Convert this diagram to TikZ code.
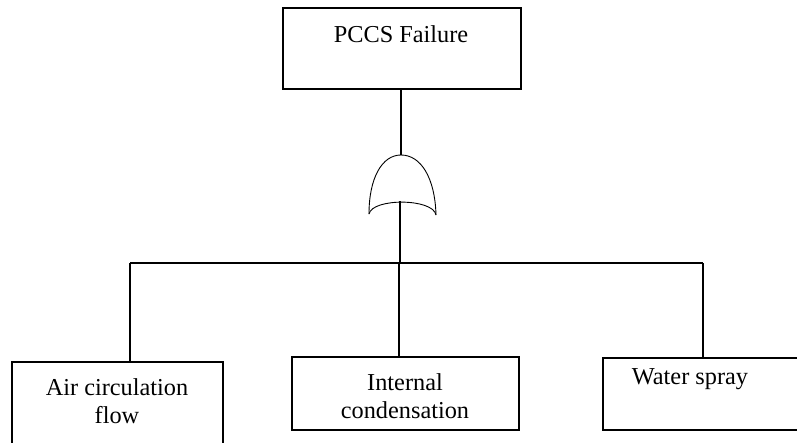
\documentclass[tikz,border=0pt]{standalone}
\usepackage{fontspec}
\setmainfont{Liberation Serif}
\begin{document}
\begin{tikzpicture}[x=1pt,y=-1pt,
  box/.style={draw=black,line width=1.4pt,inner sep=0pt},
  lbl/.style={font=\fontsize{24.3}{28}\selectfont,align=center,inner sep=0pt},
  conn/.style={line width=1.3pt},
  gateln/.style={line width=0.9pt}]
\clip (0,0) rectangle (797,442);
\useasboundingbox (0,0) rectangle (797,442);
% top box
\node[box,minimum width=238pt,minimum height=81pt] (top) at (402,48.5) {};
\node[lbl] (toptxt) at (401,34) {PCCS Failure};
% gate
\coordinate (gtop) at (401,155);
\coordinate (gl) at (369,214);
\coordinate (gr) at (436,215);
\coordinate (gbot) at (400,201);
\draw[gateln] (gl) .. controls (369,178) and (382,155) .. (gtop)
  .. controls (421,155) and (435,178) .. (gr);
\draw[gateln] (gl) .. controls (372,198) and (433,198) .. (gr);
% boxes
\node[box,minimum width=211pt,minimum height=130pt] (a) at (117.5,427) {};
\node[box,minimum width=227pt,minimum height=73pt] (b) at (405.5,393.5) {};
\node[box,minimum width=210pt,minimum height=72pt] (c) at (708,394) {};
\node[lbl] (atxt) at (117,401) {Air circulation\\flow};
\node[lbl] (btxt) at (405,396) {Internal\\condensation};
\node[lbl] (ctxt) at (690,379) {Water spray};
% connectors
\coordinate (hl) at (130,263);
\coordinate (hm) at (400,263);
\coordinate (hr) at (703,263);
\draw[conn] (top.south -| gtop) -- (gtop);
\draw[conn] (gbot) -- (hm);
\draw[conn] (hl) -- (hr);
\draw[conn] (hl) -- (hl |- a.north);
\draw[conn] (399,263) -- (399,357);
\draw[conn] (hr) -- (hr |- c.north);
\end{tikzpicture}
\end{document}
